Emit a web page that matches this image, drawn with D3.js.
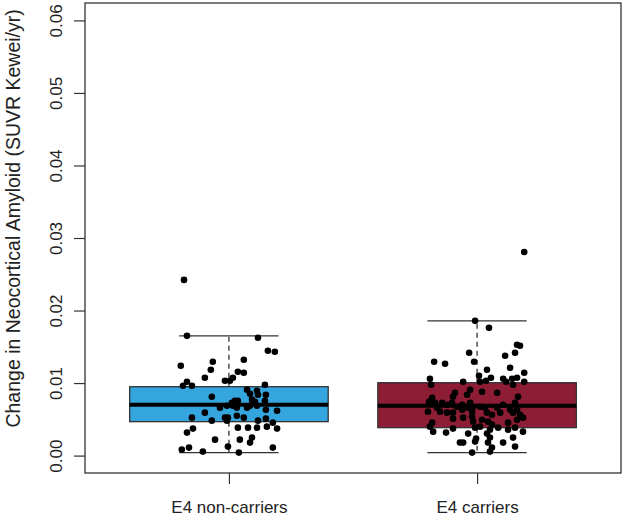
<!DOCTYPE html>
<html>
<head>
<meta charset="utf-8">
<script src="https://cdn.jsdelivr.net/npm/d3@7"></script>
<style>
  html, body { margin: 0; padding: 0; background: #fff; }
  svg text { font-family: "Liberation Sans", Arial, sans-serif; fill: #222; }
</style>
</head>
<body>
<svg id="chart" width="625" height="516"></svg>
<script>
// ---- data ----
const categories = ["E4 non-carriers", "E4 carriers"];
const boxColors = ["#35A5DE", "#8D1D35"];
const yTicks = [0.00, 0.01, 0.02, 0.03, 0.04, 0.05, 0.06];
const whiskerLow  = [0.00041, 0.00041];
const q1          = [0.00468, 0.00385];
const median      = [0.00702, 0.00688];
const q3          = [0.00950, 0.01005];
const whiskerHigh = [0.01651, 0.01858];

// non-carriers: values and horizontal jitter (category units)
const nonCarrierValues = [0.02422,0.01651,0.01624,0.01445,0.01431,0.01239,0.01294,0.01321,0.01183,0.01156,
  0.01142,0.01073,0.01032,0.01032,0.01073,0.01018,0.00963,0.00963,0.00977,0.00908,
  0.00894,0.00812,0.00853,0.00839,0.00839,0.00757,0.00757,0.00729,0.00771,0.00743,
  0.00688,0.00757,0.00661,0.00688,0.00661,0.00661,0.00688,0.00619,0.00633,0.00523,
  0.00592,0.00482,0.00523,0.00523,0.00550,0.00523,0.00482,0.00509,0.00482,0.00454,
  0.00399,0.00372,0.00372,0.00317,0.00385,0.00385,0.00385,0.00220,0.00220,0.00248,
  0.00179,0.00083,0.00110,0.00055,0.00124,0.00041,0.00110,0.00688];
const nonCarrierJitter = [-0.181,-0.169,0.117,0.157,0.185,-0.194,-0.065,0.060,-0.073,0.036,
  0.060,-0.097,-0.016,0.004,0.016,-0.169,-0.185,-0.149,0.145,0.073,
  0.113,-0.069,0.085,0.117,0.149,0.024,0.036,0.012,0.093,0.105,
  0.085,0.145,-0.036,-0.008,0.032,0.073,0.113,0.194,0.149,-0.149,
  -0.097,-0.069,-0.016,-0.004,0.032,0.060,0.117,0.149,-0.008,0.177,
  0.153,0.194,-0.145,-0.169,0.036,0.077,0.113,-0.056,0.044,0.093,
  0.085,-0.190,-0.161,-0.105,-0.004,0.040,0.177,0.016];

// carriers: values and horizontal jitter (category units)
const carrierValues = [0.02807,0.01858,0.01761,0.01528,0.01514,0.01417,0.01376,0.01417,0.01294,0.01294,
  0.01266,0.01211,0.01183,0.01142,0.01060,0.01101,0.01073,0.01032,0.01060,0.01060,
  0.01073,0.01018,0.01018,0.01018,0.01018,0.00977,0.00977,0.00867,0.00812,0.00908,
  0.00839,0.00881,0.00867,0.00812,0.00798,0.00743,0.00729,0.00729,0.00661,0.00702,
  0.00729,0.00674,0.00702,0.00729,0.00674,0.00661,0.00606,0.00674,0.00661,0.00661,
  0.00702,0.00729,0.00633,0.00633,0.00606,0.00606,0.00592,0.00592,0.00633,0.00592,
  0.00564,0.00592,0.00592,0.00564,0.00509,0.00523,0.00537,0.00468,0.00495,0.00468,
  0.00427,0.00454,0.00495,0.00523,0.00454,0.00399,0.00330,0.00317,0.00372,0.00385,
  0.00399,0.00358,0.00385,0.00358,0.00385,0.00330,0.00303,0.00234,0.00303,0.00248,
  0.00179,0.00248,0.00179,0.00179,0.00193,0.00179,0.00110,0.00055,0.00041,0.00124];
const carrierJitter = [0.190,-0.008,0.048,0.161,0.173,0.153,0.113,-0.032,-0.012,-0.173,
  -0.129,0.133,0.040,0.190,-0.190,0.008,0.056,0.036,0.105,0.141,
  0.161,0.117,0.190,-0.056,0.012,-0.185,0.145,-0.089,-0.097,-0.028,
  -0.040,0.020,0.081,0.165,-0.181,-0.194,-0.169,-0.141,-0.161,-0.121,
  -0.101,-0.081,-0.060,-0.028,-0.016,-0.036,-0.020,0.012,0.032,0.081,
  0.105,0.153,0.161,0.133,-0.198,-0.149,-0.121,-0.097,-0.060,0.040,
  0.060,0.093,0.145,0.173,-0.097,-0.056,-0.020,-0.016,0.020,0.044,
  0.060,0.125,0.161,0.185,-0.181,-0.190,-0.177,-0.125,-0.097,-0.008,
  0.012,0.052,0.085,0.125,0.153,0.185,-0.036,-0.004,0.040,0.052,
  0.105,0.145,-0.069,-0.056,-0.008,0.044,0.060,0.052,-0.020,0.153];

const yTitle = "Change in Neocortical Amyloid (SUVR Kewei/yr)";

// ---- layout ----
const svg = d3.select("#chart");
const plot = { left: 85, right: 621, top: 3, bottom: 473 };
const x = d3.scaleLinear().domain([0.42, 2.58]).range([plot.left, plot.right]);
const y = d3.scaleLinear().domain([-0.0024, 0.0624]).range([plot.bottom, plot.top]);
const boxWidth = 0.8, capWidth = 0.4;
const stroke = "#333";

const stats = categories.map((c, i) => ({
  name: c, pos: i + 1, color: boxColors[i],
  lo: whiskerLow[i], q1: q1[i], med: median[i], q3: q3[i], hi: whiskerHigh[i]
}));

const g = svg.append("g");

// whiskers (dashed), caps, boxes, medians
stats.forEach(s => {
  g.append("line").attr("x1", x(s.pos)).attr("x2", x(s.pos))
    .attr("y1", y(s.q3)).attr("y2", y(s.hi))
    .attr("stroke", stroke).attr("stroke-width", 1.3).attr("stroke-dasharray", "5,4");
  g.append("line").attr("x1", x(s.pos)).attr("x2", x(s.pos))
    .attr("y1", y(s.q1)).attr("y2", y(s.lo))
    .attr("stroke", stroke).attr("stroke-width", 1.3).attr("stroke-dasharray", "5,4");
  [s.lo, s.hi].forEach(v => {
    g.append("line").attr("x1", x(s.pos - capWidth / 2)).attr("x2", x(s.pos + capWidth / 2))
      .attr("y1", y(v)).attr("y2", y(v))
      .attr("stroke", stroke).attr("stroke-width", 1.3);
  });
  g.append("rect")
    .attr("x", x(s.pos - boxWidth / 2)).attr("width", x(s.pos + boxWidth / 2) - x(s.pos - boxWidth / 2))
    .attr("y", y(s.q3)).attr("height", y(s.q1) - y(s.q3))
    .attr("fill", s.color).attr("stroke", stroke).attr("stroke-width", 1.3);
  g.append("line").attr("x1", x(s.pos - boxWidth / 2)).attr("x2", x(s.pos + boxWidth / 2))
    .attr("y1", y(s.med)).attr("y2", y(s.med))
    .attr("stroke", "#000").attr("stroke-width", 4);
});

// points
const pts = [];
nonCarrierValues.forEach((v, i) => pts.push({ pos: 1 + nonCarrierJitter[i], v }));
carrierValues.forEach((v, i) => pts.push({ pos: 2 + carrierJitter[i], v }));
g.selectAll("circle.pt").data(pts).join("circle")
  .attr("class", "pt")
  .attr("cx", d => x(d.pos)).attr("cy", d => y(d.v))
  .attr("r", 3.3).attr("fill", "#000");

// frame
svg.append("rect")
  .attr("x", plot.left).attr("y", plot.top)
  .attr("width", plot.right - plot.left).attr("height", plot.bottom - plot.top)
  .attr("fill", "none").attr("stroke", stroke).attr("stroke-width", 1.3);

// y axis
const yAxis = d3.axisLeft(y).tickValues(yTicks).tickFormat(d3.format(".2f")).tickSize(11).tickPadding(0);
const ya = svg.append("g").attr("transform", `translate(${plot.left},0)`).call(yAxis);
ya.select(".domain").remove();
ya.selectAll(".tick line").attr("stroke", stroke).attr("stroke-width", 1.2);
ya.selectAll(".tick text")
  .attr("x", null).attr("dy", null)
  .attr("transform", "translate(-23,0) rotate(-90)")
  .attr("text-anchor", "middle")
  .attr("font-size", 17).attr("fill", "#222");

// x axis
const xAxis = d3.axisBottom(x).tickValues([1, 2]).tickFormat(d => categories[d - 1]).tickSize(11).tickPadding(0);
const xa = svg.append("g").attr("transform", `translate(0,${plot.bottom})`).call(xAxis);
xa.select(".domain").remove();
xa.selectAll(".tick line").attr("stroke", stroke).attr("stroke-width", 1.2);
xa.selectAll(".tick text").attr("dy", null).attr("y", 40)
  .attr("font-size", 17).attr("fill", "#222");

// y title
svg.append("text")
  .attr("transform", `translate(20,${y(0.0327)}) rotate(-90)`)
  .attr("text-anchor", "middle")
  .attr("font-size", 19.5)
  .text(yTitle);
</script>
</body>
</html>
